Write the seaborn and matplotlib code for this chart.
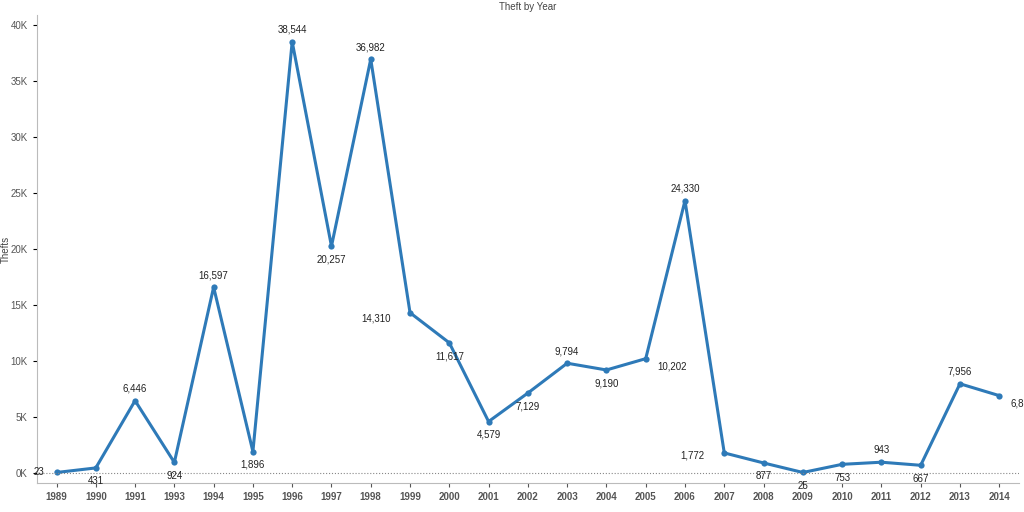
import matplotlib
matplotlib.use("Agg")
import matplotlib.pyplot as plt
import seaborn as sns
import pandas as pd

years = ["1989","1990","1991","1993","1994","1995","1996","1997","1998","1999","2000","2001","2002",
         "2003","2004","2005","2006","2007","2008","2009","2010","2011","2012","2013","2014"]
thefts = [23,431,6446,924,16597,1896,38544,20257,36982,14310,11617,4579,7129,
          9794,9190,10202,24330,1772,877,25,753,943,667,7956,6896]

df = pd.DataFrame({"Year": years, "Thefts": thefts})
plt.rcParams["font.family"] = "Liberation Sans"
fig, ax = plt.subplots(figsize=(10.24, 5.12), dpi=100)
fig.subplots_adjust(left=0.036, right=0.995, top=0.97, bottom=0.057)
color = "#2e7ab8"
sns.lineplot(data=df, x="Year", y="Thefts", ax=ax, color=color, lw=2.2, sort=False,
             marker="o", markersize=4.5, markeredgewidth=0)
ax.set_ylim(-900, 40900)
ax.set_xlim(-0.5, len(years) - 0.5)
ax.set_yticks(range(0, 40001, 5000))
ax.set_yticklabels([f"{v//1000}K" for v in range(0, 40001, 5000)], fontsize=7, color="#555")
ax.tick_params(axis="x", labelsize=7, colors="#555", length=3)
ax.tick_params(axis="y", length=3)
for lab in ax.get_xticklabels():
    lab.set_fontweight("bold")
ax.axhline(0, color="#888", lw=0.8, ls=":")
ax.set_xlabel("")
ax.set_ylabel("Thefts", fontsize=7, color="#444")
ax.yaxis.set_label_coords(-0.027, 0.5)
ax.set_title("Theft by Year", fontsize=7, color="#444", pad=4)
for s in ["top", "right"]:
    ax.spines[s].set_visible(False)
for s in ["left", "bottom"]:
    ax.spines[s].set_color("#bbb")
side = {0: (-9, 0), 9: (-14, -4), 17: (-14, -2), 15: (8, -6), 24: (8, -6)}
for i, v in enumerate(thefts):
    prev = thefts[i - 1] if i > 0 else -1
    nxt = thefts[i + 1] if i < len(thefts) - 1 else -1
    above = v >= prev and v >= nxt
    if i in side:
        dx, dy = side[i]
        ax.annotate(f"{v:,}", (i, v), xytext=(dx, dy), textcoords="offset points",
                    ha="right" if dx < 0 else "left", va="center", fontsize=7, color="#222")
        continue
    ax.annotate(f"{v:,}", (i, v), xytext=(0, 5 if above else -6), textcoords="offset points",
                ha="center", va="bottom" if above else "top", fontsize=7, color="#222")
fig.savefig("out.png")
